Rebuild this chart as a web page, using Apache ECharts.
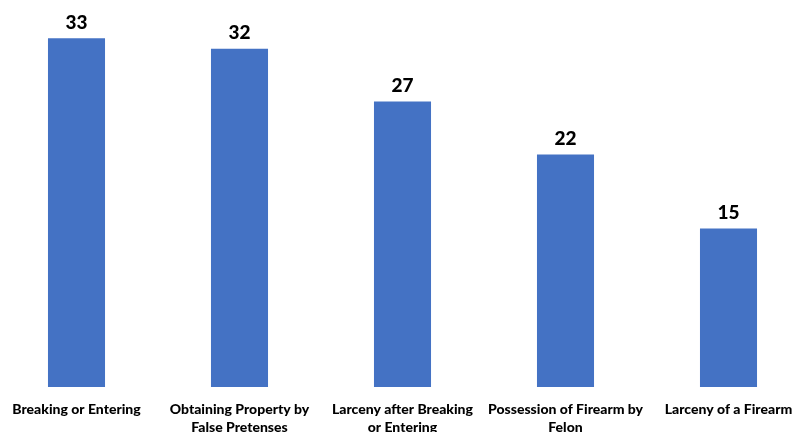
<!DOCTYPE html>
<html><head><meta charset="utf-8">
<script src="https://cdn.jsdelivr.net/npm/echarts@6/dist/echarts.min.js"></script>
<style>html,body{margin:0;padding:0;background:#fff}#c{width:812px;height:432px}</style>
</head><body><div id="c"></div>
<script>
var categories = ["Breaking or Entering", "Obtaining Property by\nFalse Pretenses", "Larceny after Breaking\nor Entering", "Possession of Firearm by\nFelon", "Larceny of a Firearm"];
var values = [33, 32, 27, 22, 15];
var chart = echarts.init(document.getElementById('c'));
chart.setOption({
  animation: false,
  grid: {left: -5, right: 2, top: 17, bottom: 45, containLabel: false, outerBoundsMode: 'none'},
  xAxis: {
    type: 'category', data: categories,
    axisLine: {show: false}, axisTick: {show: false},
    axisLabel: {interval: 0, margin: 13, fontFamily: 'Lato', fontWeight: 900, fontSize: 14, color: '#000', lineHeight: 18}
  },
  yAxis: {type: 'value', min: 0, max: 35, show: false, splitLine: {show: false}},
  series: [{
    type: 'bar', data: values, barWidth: '35%',
    itemStyle: {color: '#4472C4'},
    label: {show: true, position: 'top', distance: 6, fontFamily: 'Lato', fontWeight: 900, fontSize: 19, color: '#000'}
  }]
});
</script></body></html>
